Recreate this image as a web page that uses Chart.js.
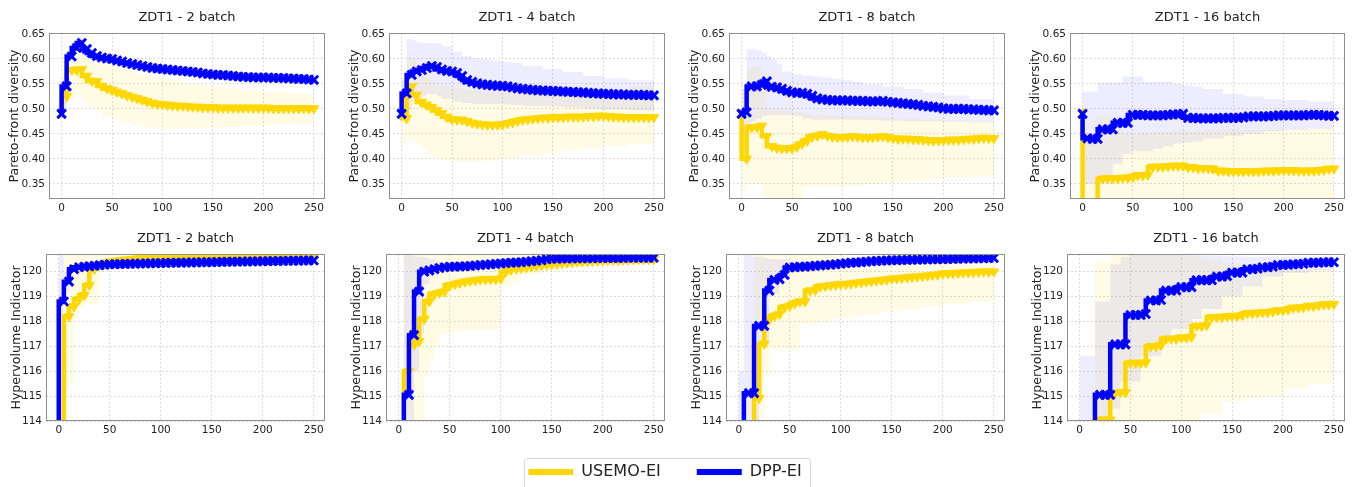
<!DOCTYPE html>
<html>
<head>
<meta charset="utf-8">
<script src="https://cdn.jsdelivr.net/npm/chart.js@4.4.1/dist/chart.umd.min.js"></script>
<style>
  html, body { margin: 0; padding: 0; background: #fff; width: 1354px; height: 487px; overflow: hidden; position: relative; }
  canvas { position: absolute; }
</style>
</head>
<body>
<script>
// ---- data ----
const ITERS = [0,5,10,15,20,25,30,35,40,45,50,55,60,65,70,75,80,85,90,95,100,105,110,115,120,125,130,135,140,145,
  150,155,160,165,170,175,180,185,190,195,200,205,210,215,220,225,230,235,240,245,250];
const BAND_ITERS = [0,5,10,15,20,25,30,35,40,50,60,70,80,90,100,110,120,140,160,180,200,225,250];
const ITER_TICKS = [0,50,100,150,200,250];
const DIV_TICKS = [0.35,0.40,0.45,0.50,0.55,0.60,0.65];
const HV_TICKS = [114,115,116,117,118,119,120];
const BATCHES = ['2','4','8','16'];
const SERIES = ['USEMO-EI','DPP-EI'];

// Pareto-front diversity, mean lines
const div2Dpp = [0.490,0.545,0.605,0.622,0.632,0.620,0.612,0.606,0.603,0.601,0.600,0.597,0.595,0.592,0.590,0.588,0.586,0.584,0.582,0.581,
  0.580,0.579,0.578,0.577,0.576,0.575,0.574,0.573,0.571,0.570,0.569,0.568,0.568,0.567,0.566,0.565,0.564,0.564,0.563,0.563,
  0.563,0.563,0.562,0.562,0.562,0.561,0.561,0.560,0.560,0.559,0.558];
const div2Usemo = [0.493,0.525,0.578,0.578,0.579,0.566,0.556,0.555,0.546,0.541,0.538,0.534,0.531,0.527,0.524,0.521,0.518,0.515,0.512,0.510,
  0.509,0.508,0.507,0.506,0.506,0.505,0.504,0.504,0.503,0.503,0.503,0.502,0.502,0.502,0.502,0.502,0.502,0.502,0.502,0.502,
  0.502,0.502,0.501,0.501,0.501,0.501,0.501,0.501,0.501,0.501,0.501];
const div4Dpp = [0.490,0.531,0.568,0.575,0.578,0.582,0.586,0.584,0.579,0.576,0.575,0.572,0.566,0.558,0.554,0.551,0.549,0.548,0.547,0.546,
  0.546,0.545,0.543,0.541,0.540,0.539,0.538,0.537,0.537,0.536,0.536,0.535,0.535,0.534,0.534,0.533,0.533,0.532,0.531,0.531,
  0.530,0.530,0.529,0.529,0.529,0.528,0.528,0.528,0.528,0.527,0.527];
const div4Usemo = [0.493,0.481,0.545,0.528,0.514,0.508,0.503,0.497,0.491,0.484,0.479,0.478,0.478,0.475,0.472,0.470,0.469,0.468,0.468,0.468,
  0.469,0.471,0.473,0.476,0.478,0.479,0.480,0.481,0.482,0.482,0.483,0.483,0.483,0.484,0.484,0.484,0.484,0.485,0.485,0.486,
  0.486,0.485,0.484,0.484,0.483,0.483,0.483,0.483,0.483,0.483,0.483];
const div8Dpp = [0.490,0.493,0.545,0.545,0.548,0.555,0.544,0.543,0.540,0.536,0.533,0.532,0.532,0.530,0.526,0.521,0.519,0.518,0.517,0.517,
  0.517,0.517,0.516,0.516,0.516,0.515,0.515,0.515,0.516,0.514,0.513,0.512,0.511,0.510,0.509,0.508,0.506,0.505,0.504,0.503,
  0.501,0.500,0.500,0.500,0.500,0.499,0.499,0.498,0.498,0.497,0.497];
const div8Usemo = [0.493,0.400,0.463,0.463,0.466,0.445,0.425,0.422,0.421,0.421,0.421,0.424,0.430,0.436,0.444,0.446,0.449,0.446,0.444,0.443,
  0.443,0.444,0.445,0.444,0.443,0.443,0.443,0.444,0.445,0.443,0.441,0.440,0.440,0.440,0.439,0.439,0.438,0.437,0.436,0.437,
  0.437,0.438,0.438,0.438,0.439,0.440,0.440,0.441,0.442,0.441,0.441];
const div16Dpp = [0.490,0.441,0.440,0.440,0.459,0.459,0.459,0.472,0.472,0.472,0.488,0.488,0.488,0.487,0.487,0.487,0.487,0.488,0.489,0.489,
  0.490,0.482,0.482,0.481,0.481,0.481,0.481,0.481,0.482,0.482,0.482,0.482,0.483,0.485,0.485,0.485,0.485,0.485,0.486,0.487,
  0.487,0.487,0.487,0.487,0.487,0.488,0.488,0.488,0.487,0.486,0.486];
const div16Usemo = [0.493,0.250,0.250,0.250,0.360,0.361,0.361,0.361,0.362,0.362,0.363,0.367,0.367,0.368,0.384,0.384,0.384,0.385,0.386,0.386,
  0.386,0.383,0.383,0.381,0.381,0.381,0.380,0.376,0.376,0.375,0.375,0.375,0.375,0.375,0.375,0.375,0.376,0.376,0.376,0.377,
  0.377,0.377,0.377,0.376,0.376,0.376,0.376,0.377,0.378,0.380,0.380];

// Pareto-front diversity, bands
const div2DppHi = [0.495,0.560,0.615,0.635,0.645,0.635,0.625,0.617,0.612,0.608,0.603,0.598,0.593,0.589,0.587,0.585,0.583,0.579,0.575,0.572,0.570,0.568,0.566];
const div2DppLo = [0.440,0.500,0.595,0.610,0.620,0.605,0.600,0.595,0.594,0.592,0.587,0.582,0.579,0.576,0.573,0.571,0.569,0.565,0.561,0.557,0.556,0.554,0.550];
const div2UsemoHi = [0.495,0.545,0.610,0.620,0.615,0.610,0.605,0.600,0.598,0.592,0.585,0.578,0.572,0.567,0.562,0.559,0.556,0.550,0.546,0.542,0.538,0.534,0.530];
const div2UsemoLo = [0.440,0.500,0.520,0.520,0.530,0.515,0.505,0.500,0.495,0.485,0.478,0.472,0.467,0.463,0.461,0.460,0.460,0.461,0.462,0.464,0.466,0.468,0.470];
const div4DppHi = [0.495,0.560,0.640,0.637,0.633,0.632,0.632,0.632,0.631,0.625,0.615,0.606,0.601,0.599,0.597,0.594,0.592,0.586,0.580,0.574,0.566,0.561,0.557];
const div4DppLo = [0.440,0.490,0.500,0.515,0.520,0.525,0.530,0.530,0.525,0.520,0.515,0.512,0.510,0.510,0.510,0.509,0.508,0.506,0.505,0.503,0.500,0.499,0.497];
const div4UsemoHi = [0.495,0.530,0.610,0.600,0.585,0.575,0.565,0.557,0.550,0.545,0.542,0.540,0.537,0.535,0.535,0.534,0.533,0.532,0.533,0.535,0.537,0.540,0.545];
const div4UsemoLo = [0.440,0.430,0.440,0.435,0.430,0.420,0.410,0.405,0.400,0.397,0.395,0.395,0.395,0.396,0.398,0.400,0.402,0.407,0.412,0.418,0.422,0.426,0.430];
const div8DppHi = [0.495,0.540,0.620,0.620,0.617,0.613,0.605,0.600,0.590,0.575,0.570,0.567,0.565,0.563,0.560,0.557,0.555,0.550,0.545,0.540,0.533,0.527,0.520];
const div8DppLo = [0.440,0.445,0.470,0.475,0.480,0.485,0.488,0.488,0.488,0.488,0.485,0.480,0.478,0.478,0.478,0.478,0.478,0.477,0.476,0.475,0.475,0.474,0.473];
const div8UsemoHi = [0.495,0.540,0.580,0.585,0.585,0.550,0.500,0.500,0.500,0.497,0.495,0.490,0.489,0.488,0.487,0.486,0.485,0.484,0.482,0.480,0.478,0.476,0.474];
const div8UsemoLo = [0.440,0.330,0.350,0.350,0.350,0.330,0.310,0.310,0.310,0.310,0.320,0.345,0.345,0.345,0.345,0.346,0.347,0.350,0.353,0.356,0.360,0.363,0.366];
const div16DppHi = [0.538,0.535,0.535,0.535,0.553,0.553,0.553,0.553,0.553,0.565,0.565,0.555,0.555,0.555,0.550,0.547,0.545,0.540,0.530,0.525,0.520,0.518,0.515];
const div16DppLo = [0.440,0.350,0.350,0.350,0.350,0.350,0.350,0.390,0.390,0.410,0.415,0.415,0.420,0.425,0.430,0.432,0.435,0.440,0.445,0.450,0.455,0.458,0.460];
const div16UsemoHi = [0.495,0.440,0.440,0.440,0.485,0.485,0.485,0.485,0.485,0.450,0.450,0.452,0.453,0.454,0.455,0.455,0.456,0.457,0.458,0.458,0.459,0.459,0.460];
const div16UsemoLo = [0.440,0.200,0.200,0.200,0.300,0.300,0.300,0.310,0.310,0.310,0.310,0.310,0.310,0.310,0.310,0.310,0.310,0.310,0.310,0.310,0.310,0.310,0.310];

// Hypervolume indicator, mean lines
const hv2Dpp = [105,118.8,119.6,120.1,120.18,120.2,120.22,120.24,120.26,120.28,120.3,120.3,120.31,120.31,120.32,120.32,120.33,120.33,120.34,120.34,
  120.35,120.35,120.36,120.36,120.36,120.37,120.37,120.37,120.38,120.38,120.38,120.39,120.39,120.4,120.4,120.4,120.41,120.41,120.41,120.42,
  120.42,120.42,120.43,120.43,120.43,120.44,120.44,120.44,120.45,120.45,120.45];
const hv2Usemo = [105,105,118.2,118.6,118.9,119.05,119.45,120.1,120.25,120.35,120.4,120.43,120.46,120.48,120.5,120.52,120.54,120.55,120.56,120.57,
  120.58,120.58,120.59,120.59,120.59,120.6,120.6,120.6,120.6,120.6,120.61,120.61,120.61,120.61,120.61,120.61,120.62,120.62,120.62,120.62,
  120.62,120.62,120.62,120.63,120.63,120.63,120.63,120.63,120.63,120.63,120.63];
const hv4Dpp = [105,105,115.05,117.45,119.2,120.0,120.05,120.1,120.15,120.18,120.2,120.2,120.21,120.22,120.23,120.25,120.27,120.28,120.3,120.31,
  120.33,120.35,120.36,120.37,120.38,120.4,120.42,120.44,120.46,120.5,120.52,120.52,120.53,120.53,120.53,120.54,120.54,120.54,120.54,120.55,
  120.55,120.55,120.55,120.55,120.55,120.56,120.56,120.56,120.56,120.56,120.56];
const hv4Usemo = [105,105,116.0,117.06,117.2,118.1,118.8,119.1,119.15,119.2,119.45,119.5,119.55,119.6,119.63,119.66,119.68,119.7,119.7,119.7,
  119.72,120.0,120.08,120.12,120.15,120.18,120.2,120.24,120.26,120.28,120.3,120.32,120.34,120.36,120.38,120.4,120.41,120.42,120.43,120.44,
  120.45,120.46,120.47,120.47,120.48,120.48,120.49,120.49,120.5,120.5,120.5];
const hv8Dpp = [105,105,115.12,115.12,117.82,117.82,119.24,119.67,119.7,119.87,120.17,120.18,120.2,120.2,120.22,120.24,120.25,120.27,120.28,120.3,
  120.32,120.34,120.36,120.37,120.38,120.4,120.42,120.43,120.44,120.45,120.46,120.46,120.47,120.47,120.48,120.48,120.49,120.49,120.5,120.5,
  120.5,120.51,120.51,120.52,120.52,120.53,120.53,120.54,120.54,120.55,120.55];
const hv8Usemo = [105,105,105,105,114.92,117.1,118.06,118.22,118.3,118.57,118.62,118.72,118.8,118.8,119.24,119.26,119.4,119.42,119.45,119.47,
  119.5,119.5,119.52,119.55,119.57,119.6,119.62,119.64,119.66,119.68,119.72,119.73,119.75,119.77,119.79,119.8,119.82,119.84,119.86,119.88,
  119.92,119.93,119.94,119.95,119.96,119.97,119.98,119.99,120.0,120.0,120.0];
const hv16Dpp = [105,105,105,105,115.05,115.05,115.05,117.08,117.08,117.08,118.26,118.26,118.26,118.3,118.84,118.84,118.86,119.24,119.24,119.25,
  119.38,119.38,119.38,119.66,119.66,119.66,119.66,119.8,119.8,119.82,119.96,119.96,119.96,120.1,120.1,120.12,120.18,120.18,120.2,120.27,
  120.27,120.28,120.3,120.3,120.32,120.36,120.36,120.36,120.38,120.38,120.38];
const hv16Usemo = [105,105,105,105,114.05,114.05,114.05,115.12,115.15,115.15,116.33,116.33,116.33,116.35,117.0,117.0,117.05,117.3,117.3,117.3,
  117.35,117.35,117.38,117.82,117.82,117.85,118.17,118.17,118.18,118.2,118.22,118.22,118.25,118.33,118.33,118.35,118.37,118.37,118.4,118.45,
  118.45,118.48,118.55,118.55,118.57,118.62,118.62,118.65,118.68,118.68,118.7];

// Hypervolume indicator, bands
const hv2DppHi = [105,120.7,120.0,120.25,120.28,120.3,120.31,120.33,120.35,120.37,120.38,120.39,120.4,120.41,120.42,120.425,120.43,120.45,120.46,120.47,120.48,120.49,120.5];
const hv2DppLo = [100,100,119.2,119.95,120.08,120.1,120.13,120.15,120.17,120.2,120.22,120.24,120.25,120.26,120.27,120.28,120.29,120.3,120.31,120.32,120.33,120.35,120.37];
const hv2UsemoHi = [105,105,120.7,120.7,120.7,120.7,120.7,120.7,120.7,120.7,120.7,120.7,120.7,120.7,120.7,120.7,120.7,120.7,120.7,120.7,120.7,120.7,120.7];
const hv2UsemoLo = [100,100,115.3,115.5,118.3,118.5,118.7,118.7,118.7,120.1,120.3,120.35,120.4,120.42,120.44,120.45,120.46,120.48,120.5,120.5,120.52,120.53,120.55];
const hv4DppHi = [105,105,120.7,120.7,120.6,120.6,120.55,120.5,120.45,120.35,120.32,120.33,120.35,120.37,120.39,120.42,120.45,120.52,120.58,120.6,120.61,120.62,120.62];
const hv4DppLo = [100,100,100,100,116,117.5,119.5,119.8,119.95,120.05,120.1,120.12,120.15,120.18,120.22,120.26,120.3,120.38,120.44,120.46,120.48,120.49,120.5];
const hv4UsemoHi = [105,105,120.7,120.7,120.7,120.7,120.7,120.7,120.7,120.7,120.7,120.7,120.7,120.7,120.7,120.7,120.7,120.7,120.7,120.7,120.7,120.7,120.7];
const hv4UsemoLo = [100,100,100,100,100,114,115.8,116.5,117,117.5,117.6,117.65,117.7,117.7,117.7,119.4,119.6,119.9,120.05,120.15,120.2,120.25,120.3];
const hv8DppHi = [105,116,120.7,120.7,120.6,120.6,120.55,120.5,120.5,120.5,120.45,120.42,120.42,120.43,120.44,120.47,120.5,120.55,120.57,120.58,120.6,120.62,120.63];
const hv8DppLo = [100,100,100,100,100,117,117,119,119.1,119.9,120.0,120.03,120.06,120.1,120.15,120.2,120.22,120.26,120.3,120.34,120.38,120.42,120.45];
const hv8UsemoHi = [105,105,105,105,120.7,120.7,120.7,120.7,120.7,120.7,120.7,120.7,120.7,120.7,120.65,120.6,120.6,120.6,120.6,120.6,120.6,120.6,120.6];
const hv8UsemoLo = [100,100,100,100,100,100,115.8,116.86,116.86,116.86,116.86,117.9,117.95,118.0,118.1,118.15,118.2,118.3,118.4,118.5,118.6,118.7,118.8];
const hv16DppHi = [105,116.6,116.6,116.6,118.8,118.8,118.8,120.3,120.3,120.6,120.7,120.7,120.7,120.7,120.7,120.7,120.68,120.65,120.62,120.6,120.6,120.6,120.6];
const hv16DppLo = [100,100,100,100,100,100,100,114.5,114.5,115.6,115.6,116.6,116.6,117.3,117.7,117.7,118.1,118.5,119.0,119.4,119.8,119.95,120.05];
const hv16UsemoHi = [105,105,105,105,120.4,120.4,120.4,120.7,120.7,120.7,120.7,120.7,120.7,120.7,120.7,120.65,120.6,120.5,120.35,120.25,120.2,120.15,120.1];
const hv16UsemoLo = [100,100,100,100,100,100,100,100,100,100,100,100,100,100,100,100,113.5,114.3,114.8,114.9,115.0,115.3,115.5];

// ---- panels ----
const panels = [
  { batch: BATCHES[0], metric: 'div', usemo: div2Usemo, dpp: div2Dpp, usemoHi: div2UsemoHi, usemoLo: div2UsemoLo, dppHi: div2DppHi, dppLo: div2DppLo },
  { batch: BATCHES[1], metric: 'div', usemo: div4Usemo, dpp: div4Dpp, usemoHi: div4UsemoHi, usemoLo: div4UsemoLo, dppHi: div4DppHi, dppLo: div4DppLo },
  { batch: BATCHES[2], metric: 'div', usemo: div8Usemo, dpp: div8Dpp, usemoHi: div8UsemoHi, usemoLo: div8UsemoLo, dppHi: div8DppHi, dppLo: div8DppLo },
  { batch: BATCHES[3], metric: 'div', usemo: div16Usemo, dpp: div16Dpp, usemoHi: div16UsemoHi, usemoLo: div16UsemoLo, dppHi: div16DppHi, dppLo: div16DppLo },
  { batch: BATCHES[0], metric: 'hv', usemo: hv2Usemo, dpp: hv2Dpp, usemoHi: hv2UsemoHi, usemoLo: hv2UsemoLo, dppHi: hv2DppHi, dppLo: hv2DppLo },
  { batch: BATCHES[1], metric: 'hv', usemo: hv4Usemo, dpp: hv4Dpp, usemoHi: hv4UsemoHi, usemoLo: hv4UsemoLo, dppHi: hv4DppHi, dppLo: hv4DppLo },
  { batch: BATCHES[2], metric: 'hv', usemo: hv8Usemo, dpp: hv8Dpp, usemoHi: hv8UsemoHi, usemoLo: hv8UsemoLo, dppHi: hv8DppHi, dppLo: hv8DppLo },
  { batch: BATCHES[3], metric: 'hv', usemo: hv16Usemo, dpp: hv16Dpp, usemoHi: hv16UsemoHi, usemoLo: hv16UsemoLo, dppHi: hv16DppHi, dppLo: hv16DppLo }
];

// plot-area boxes in page pixels
const boxes = [
  { l: 49, r: 325, t: 33, b: 199 }, { l: 389, r: 665, t: 33, b: 199 },
  { l: 729, r: 1005, t: 33, b: 199 }, { l: 1070, r: 1345, t: 33, b: 199 },
  { l: 46, r: 325, t: 254, b: 421 }, { l: 386, r: 665, t: 254, b: 421 },
  { l: 726, r: 1005, t: 254, b: 421 }, { l: 1067, r: 1345, t: 254, b: 421 }
];

const GOLD = '#FFD700';
const BLUE = '#0000FF';
const GOLD_BAND = 'rgba(255,215,0,0.10)';
const BLUE_BAND = 'rgba(0,0,255,0.07)';
const Y_AXIS_W = 46, TITLE_H = 33, X_AXIS_H = 30, PAD_R = 12;

Chart.defaults.font.family = "'DejaVu Sans', 'Liberation Sans', sans-serif";
Chart.defaults.color = '#222';

function toPoints(xs, ys) {
  return xs.map((x, i) => ({ x: x, y: ys[i] }));
}

function meanSet(label, ys, color, isDpp) {
  return {
    label: label,
    data: toPoints(ITERS, ys),
    borderColor: color,
    backgroundColor: color,
    borderWidth: 4.5,
    stepped: 'after',
    fill: false,
    clip: 0,
    pointStyle: isDpp ? 'crossRot' : 'triangle',
    rotation: isDpp ? 0 : 180,
    pointRadius: isDpp ? 6 : 5.5,
    pointBorderWidth: isDpp ? 3 : 1,
    pointBackgroundColor: color,
    pointBorderColor: color
  };
}

function bandSet(ys, color, fillTo) {
  return {
    data: toPoints(BAND_ITERS, ys),
    borderColor: 'rgba(0,0,0,0)',
    borderWidth: 0,
    backgroundColor: color,
    pointRadius: 0,
    stepped: 'after',
    fill: fillTo,
    clip: 0
  };
}

const frame = {
  id: 'frame',
  afterDatasetsDraw(chart) {
    const a = chart.chartArea, c = chart.ctx;
    c.save();
    c.strokeStyle = '#8f8f8f';
    c.lineWidth = 1;
    c.strokeRect(Math.round(a.left) + 0.5, Math.round(a.top) + 0.5,
      Math.round(a.right - a.left) - 1, Math.round(a.bottom - a.top) - 1);
    c.restore();
  }
};

function drawPanel(p, box) {
  const isDiv = p.metric === 'div';
  const cv = document.createElement('canvas');
  const W = box.r - box.l + Y_AXIS_W + PAD_R;
  const H = box.b - box.t + TITLE_H + X_AXIS_H;
  cv.width = W;
  cv.height = H;
  cv.style.left = (box.l - Y_AXIS_W) + 'px';
  cv.style.top = (box.t - TITLE_H) + 'px';
  document.body.appendChild(cv);

  new Chart(cv, {
    type: 'line',
    data: {
      datasets: [
        meanSet(SERIES[1], p.dpp, BLUE, true),
        meanSet(SERIES[0], p.usemo, GOLD, false),
        bandSet(p.dppHi, BLUE_BAND, '+1'),
        bandSet(p.dppLo, BLUE_BAND, false),
        bandSet(p.usemoHi, GOLD_BAND, '+1'),
        bandSet(p.usemoLo, GOLD_BAND, false)
      ]
    },
    options: {
      responsive: false,
      animation: false,
      events: [],
      layout: { padding: { left: 0, right: PAD_R, top: 0, bottom: 0 } },
      plugins: {
        legend: { display: false },
        tooltip: { enabled: false },
        title: {
          display: true,
          fullSize: false,
          text: 'ZDT1 - ' + p.batch + ' batch',
          font: { size: 13, weight: 'normal' },
          color: '#222',
          padding: { top: 10.2, bottom: 7.2 }
        }
      },
      scales: {
        x: {
          type: 'linear',
          min: -12.5,
          max: 261,
          afterFit: s => { s.height = X_AXIS_H; },
          afterBuildTicks: s => { s.ticks = ITER_TICKS.map(v => ({ value: v })); },
          ticks: { font: { size: 10.5 }, color: '#222', padding: 3, maxRotation: 0, callback: v => String(v) },
          grid: { color: '#d2d2d2', lineWidth: 0.8, drawTicks: false },
          border: { display: false, dash: [2, 2] }
        },
        y: {
          type: 'linear',
          min: isDiv ? 0.3195 : 114,
          max: isDiv ? 0.652 : 120.71,
          afterFit: s => { s.width = Y_AXIS_W; },
          afterBuildTicks: s => { s.ticks = (isDiv ? DIV_TICKS : HV_TICKS).map(v => ({ value: v })); },
          ticks: {
            font: { size: 10.5 }, color: '#222', padding: 4,
            callback: v => isDiv ? v.toFixed(2) : String(Math.round(v))
          },
          grid: { color: '#d2d2d2', lineWidth: 0.8, drawTicks: false },
          border: { display: false, dash: [2, 2] },
          title: {
            display: true,
            text: isDiv ? 'Pareto-front diversity' : 'Hypervolume Indicator',
            font: { size: 12.6 },
            color: '#222',
            padding: { top: isDiv ? 4.5 : 9.5, bottom: 0 }
          }
        }
      }
    },
    plugins: [frame]
  });
}

panels.forEach((p, i) => drawPanel(p, boxes[i]));

// ---- shared legend ----
const legendFrame = {
  id: 'legendFrame',
  afterDraw(chart) {
    const hb = chart.legend && chart.legend.legendHitBoxes;
    if (!hb || hb.length < 2) return;
    const c = chart.ctx;
    const x0 = Math.round(hb[0].left - 4) + 0.5;
    const x1 = Math.round(hb[1].left + hb[1].width + 8) + 0.5;
    const y0 = Math.round(hb[0].top + hb[0].height / 2 - 14) + 0.5;
    c.save();
    c.strokeStyle = '#d6d6d6';
    c.lineWidth = 1;
    c.beginPath();
    c.roundRect(x0, y0, x1 - x0, 60, 3);
    c.stroke();
    c.restore();
  }
};

// tall canvas so the legend box is not clipped; the page cuts it at 487px
const lg = document.createElement('canvas');
lg.width = 1354;
lg.height = 200;
lg.style.left = '-12px';
lg.style.top = '428px';
document.body.appendChild(lg);

new Chart(lg, {
  type: 'line',
  data: {
    datasets: [
      { label: SERIES[0], data: [], borderColor: GOLD, backgroundColor: GOLD, borderWidth: 0 },
      { label: SERIES[1], data: [], borderColor: BLUE, backgroundColor: BLUE, borderWidth: 0 }
    ]
  },
  options: {
    responsive: false,
    animation: false,
    events: [],
    scales: { x: { display: false }, y: { display: false } },
    plugins: {
      tooltip: { enabled: false },
      legend: {
        display: true,
        position: 'top',
        labels: { boxWidth: 45, boxHeight: 6, padding: 36, font: { size: 16 }, color: '#222' }
      }
    }
  },
  plugins: [legendFrame]
});
</script>
</body>
</html>
